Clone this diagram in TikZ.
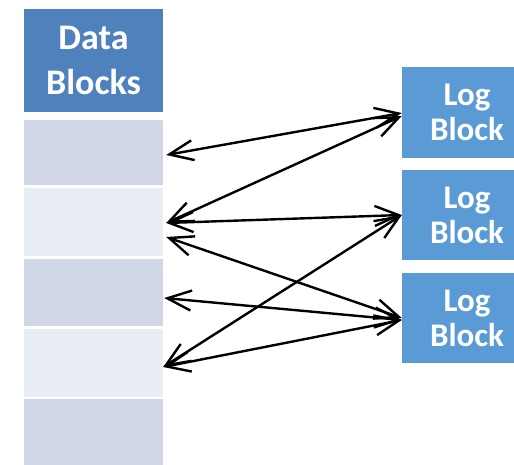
\documentclass[tikz,border=0pt]{standalone}
\usepackage{fontspec}
\setmainfont{Carlito}
\usetikzlibrary{arrows.meta,calc}
\definecolor{hdrblue}{HTML}{4F81BD}
\definecolor{logblue}{HTML}{5B9BD5}
\definecolor{rowdark}{HTML}{D0D8E8}
\definecolor{rowlight}{HTML}{E9EDF4}
\begin{document}
\begin{tikzpicture}[x=1pt,y=-1pt,
  cell/.style={draw=none,inner sep=0pt,minimum width=139pt},
  hdr/.style={cell,fill=hdrblue,minimum height=103pt,text=white,align=center,
    font=\bfseries\fontsize{36}{45}\selectfont},
  rowdk/.style={cell,fill=rowdark},
  rowlt/.style={cell,fill=rowlight},
  logbox/.style={draw=none,inner sep=0pt,fill=logblue,minimum width=130pt,
    minimum height=90pt,text=white,align=center,
    font=\bfseries\fontsize{33}{35}\selectfont},
  barb/.tip={Straight Barb[length=24pt,width=20pt]},
  link/.style={line width=2.4pt,barb-barb}]
\useasboundingbox (0,0) rectangle (514,465);

% column of data blocks
\node[hdr]   (hdr) at (93.5,60.5) {Data\\Blocks};
\node[rowdk,minimum height=65pt] (r1) at (93.5,152.5) {};
\node[rowlt,minimum height=68pt] (r2) at (93.5,222) {};
\node[rowdk,minimum height=67pt] (r3) at (93.5,292.5) {};
\node[rowlt,minimum height=68pt] (r4) at (93.5,363) {};
\node[rowdk,minimum height=66pt] (r5) at (93.5,432) {};

% log blocks (they run past the right edge)
\node[logbox,minimum height=91pt] (l1) at (467,112.5) {Log\\Block};
\node[logbox] (l2) at (467,215) {Log\\Block};
\node[logbox] (l3) at (467,318) {Log\\Block};

% arrow end points
\coordinate (a1)  at ($(r1.east)+(3,2.5)$);
\coordinate (a2)  at ($(r2.east)+(3,1)$);
\coordinate (a3)  at ($(r2.east)+(3,15)$);
\coordinate (a4)  at ($(r3.east)+(1,5.5)$);
\coordinate (a5)  at ($(r4.east)+(0,4)$);
\coordinate (b1)  at ($(l1.west)+(0,0.5)$);
\coordinate (b1') at ($(l1.west)+(0,3.5)$);
\coordinate (b2)  at (l2.west);
\coordinate (b3)  at (l3.west);
\coordinate (b3') at ($(l3.west)+(0,2)$);

% mappings between data blocks and log blocks
\draw[link] (a1) -- (b1);
\draw[link] (a2) -- (b1');
\draw[link] (a2) -- (b2);
\draw[link] (a3) -- (b3);
\draw[link] (a4) -- (b3');
\draw[link] (a5) -- (b2);
\draw[link] (a5) -- (b3');
\end{tikzpicture}
\end{document}
